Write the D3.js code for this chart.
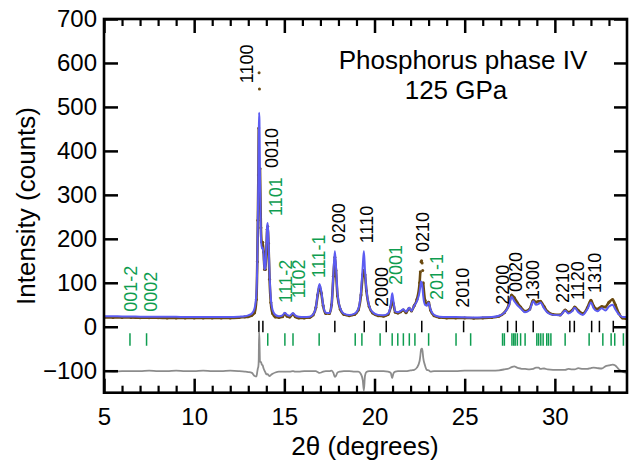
<!DOCTYPE html>
<html><head><meta charset="utf-8">
<script src="https://cdn.jsdelivr.net/npm/d3@7"></script>
<style>
html,body{margin:0;padding:0;background:#fff;}
svg text{font-family:"Liberation Sans",Arial,Helvetica,sans-serif;}
</style></head>
<body>
<svg id="chart" width="631" height="465"></svg>
<script>
// ---- data ----
const twoTheta = [5.0,5.5,6.0,6.5,7.0,7.5,8.0,8.5,9.0,9.5,10.0,10.5,11.0,11.5,12.0,12.5,12.8,13.0,13.2,13.35,13.45,13.5,13.53,13.56,13.58,13.6,13.62,13.65,13.7,13.75,13.8,13.85,13.9,13.95,14.0,14.05,14.08,14.12,14.18,14.25,14.35,14.5,14.7,14.9,15.03,15.15,15.3,15.48,15.6,15.8,16.1,16.4,16.6,16.75,16.85,16.95,17.05,17.15,17.3,17.5,17.62,17.72,17.8,17.86,17.95,18.1,18.3,18.6,18.9,19.1,19.25,19.35,19.41,19.47,19.55,19.7,19.9,20.2,20.5,20.75,20.9,20.98,21.05,21.15,21.3,21.45,21.6,21.75,21.92,22.05,22.2,22.35,22.5,22.54,22.58,22.61,22.64,22.67,22.7,22.8,22.9,23.0,23.1,23.3,23.6,24.0,24.5,25.0,25.5,26.0,26.5,26.9,27.2,27.45,27.6,27.75,27.9,28.1,28.35,28.6,28.8,28.95,29.1,29.2,29.4,29.6,29.9,30.3,30.57,30.75,30.95,31.1,31.3,31.55,31.8,32.0,32.15,32.35,32.6,32.8,33.0,33.2,33.35,33.55,33.75,34.0];
const calcI = [24,24,23.5,23.5,23,23,23,22.5,22.5,22,22,22,22,22,22,23,24,26,30,42,75,150,240,340,430,487,470,340,205,178,180,165,130,135,180,230,236,200,120,65,38,27,24,26,32,27,25,31,26,23,22,23,28,45,75,97,80,50,32,31,50,120,172,140,75,42,30,27,30,40,80,140,172,130,85,48,33,27,26,30,50,76,58,35,33,36,40,34,43,36,48,58,80,92,103,101,95,84,70,50,48,55,40,27,23,22,22,21.5,21,21.5,22,25,32,48,68,58,50,42,33,38,58,50,52,55,42,32,27,26,37,30,35,43,33,27,40,55,42,35,42,37,46,50,40,28,22,22];
const obsI = [21,21,21,21,20.5,20.5,20.5,20,20,20,20,20,20,20,20,21,22,23,26,32,62,148,242,345,452,578,541,360,225,192,192,170,130,130,172,222,228,190,108,55,30,22,21,23,30,24,22,29,23,20,20,21,27,44,72,92,76,48,30,30,50,115,158,128,70,40,28,25,28,38,72,118,128,118,82,46,31,25,24,28,45,60,52,33,31,34,38,32,42,36,48,62,100,125,148,150,145,128,100,60,50,56,38,25,21,20,20,20,19.5,20,21,24,32,50,72,66,56,45,35,40,60,56,58,58,46,34,28,27,38,33,37,45,37,30,43,60,47,40,46,45,56,62,50,30,20,18];
const diffI = [-101,-102,-101,-101,-101,-100,-101,-101,-100,-101,-101,-100,-101,-101,-100,-101,-102,-103,-105,-112,-113,-102,-95,-90,-75,-12,-30,-80,-80,-86,-88,-95,-100,-104,-108,-108,-108,-110,-112,-110,-107,-104,-102,-102,-102,-102,-102,-101,-102,-102,-101,-101,-101,-101,-103,-105,-104,-102,-101,-101,-100,-105,-114,-112,-104,-102,-101,-101,-102,-102,-108,-122,-145,-112,-103,-101,-101,-101,-101,-102,-105,-117,-106,-102,-101,-101,-101,-101,-100,-99,-98,-93,-78,-66,-52,-50,-50,-58,-70,-88,-98,-99,-102,-101,-101,-101,-101,-100,-100,-100,-100,-99,-97,-95,-92,-90,-93,-95,-96,-97,-96,-93,-93,-96,-95,-97,-98,-98,-98,-96,-97,-97,-94,-96,-96,-94,-93,-94,-95,-90,-88,-86,-88,-97,-102,-105];

// reflection markers (2θ)
const phaseA = [13.59,13.81,17.80,19.43,20.65,22.62,24.94,27.38,27.86,28.80,30.83,31.08,32.04,32.47,33.24];
const phaseB = [6.44,7.36,14.08,15.03,15.48,16.93,18.93,19.30,20.31,20.98,21.29,21.60,21.93,22.24,23.00,24.52,25.33,27.10,27.20,27.62,27.72,27.80,27.92,28.10,28.35,29.00,29.10,29.22,29.35,29.55,29.65,29.78,30.57,31.90,32.66,33.12,33.32,33.80];

// hkl labels: text, anchor 2θ, anchor intensity
const labelsA = ["1100","0010","0200","1110","2000","0210","2010","2200","0020","1300","2210","1120","1310"];
const labelsA_t = [13.25,14.63,18.34,19.90,20.72,23.00,25.25,27.47,28.19,29.13,30.79,31.62,32.54];
const labelsA_i = [554,361,190,190,45,170,43,50,79,61,54,61,77];
const labelsB = ["001-2","0002","1101","111-2","1102","111-1","2001","201-1"];
const labelsB_t = [6.83,7.92,14.85,15.40,16.12,17.23,21.55,23.82];
const labelsB_i = [34,34,252,54,65,111,95,61];

const xMajor = [5,10,15,20,25,30];
const xMinor = [6,7,8,9,11,12,13,14,16,17,18,19,21,22,23,24,26,27,28,29,31,32,33];
const yMajor = [-100,0,100,200,300,400,500,600,700];

const title1 = "Phosphorus phase IV", title2 = "125 GPa";
const xTitle = "2θ (degrees)", yTitle = "Intensity (counts)";

// ---- drawing ----
const svg = d3.select("#chart");
const L = 104, R = 627, T = 19, B = 392.7;
const x = d3.scaleLinear().domain([5,34]).range([L,R]);
const y = d3.scaleLinear().domain([-150,700]).range([B,T]);

const pts = twoTheta.map((t,i)=>({t, c:calcI[i], o:obsI[i], d:diffI[i]}));

svg.append("clipPath").attr("id","clip").append("rect")
  .attr("x",L).attr("y",T).attr("width",R-L).attr("height",B-T);
const g = svg.append("g").attr("clip-path","url(#clip)");

// reflection markers
g.selectAll("line.pa").data(phaseA).enter().append("line")
  .attr("x1",d=>x(d)).attr("x2",d=>x(d)).attr("y1",y(13.5)).attr("y2",y(-12.5))
  .attr("stroke","#000").attr("stroke-width",1.5);
g.selectAll("line.pb").data(phaseB).enter().append("line")
  .attr("x1",d=>x(d)).attr("x2",d=>x(d)).attr("y1",y(-15)).attr("y2",y(-43))
  .attr("stroke","#0f9d50").attr("stroke-width",1.5);

// difference
g.append("path").datum(pts)
  .attr("d", d3.line().x(p=>x(p.t)).y(p=>y(p.d)).curve(d3.curveMonotoneX))
  .attr("fill","none").attr("stroke","#8c8c8c").attr("stroke-width",1.8);

// observed: dense band where it follows the fit, isolated dots where it departs
g.append("path").datum(pts)
  .attr("d", d3.line().defined(p=>p.o - p.c < 35).x(p=>x(p.t)).y(p=>y(p.o)).curve(d3.curveMonotoneX))
  .attr("fill","none").attr("stroke","#6b4a10").attr("stroke-width",2.6);
g.selectAll("circle.obs").data(pts).enter().append("circle")
  .attr("cx",p=>x(p.t)).attr("cy",p=>y(p.o)).attr("r",1.5).attr("fill","#6b4a10");

// calculated
g.append("path").datum(pts)
  .attr("d", d3.line().x(p=>x(p.t)).y(p=>y(p.c)).curve(d3.curveMonotoneX))
  .attr("fill","none").attr("stroke","#5c5cf2").attr("stroke-width",2);

// labels
function addLabels(texts, ts, is, color){
  texts.forEach((s,i)=>{
    svg.append("text").attr("transform",`translate(${x(ts[i])},${y(is[i])}) rotate(-90)`)
      .attr("text-anchor","start").attr("font-size",18).attr("fill",color).text(s);
  });
}
addLabels(labelsA, labelsA_t, labelsA_i, "#000");
addLabels(labelsB, labelsB_t, labelsB_i, "#0f9d50");

// axes
const ax = svg.append("g");
function styleAxis(sel, w){
  sel.select(".domain").remove();
  sel.selectAll(".tick line").attr("stroke","#000").attr("stroke-width",w);
  sel.selectAll(".tick text").attr("font-size",24).attr("fill","#000")
     .style("font-family",'"Liberation Sans",Arial,Helvetica,sans-serif');
}
ax.append("g").attr("transform",`translate(0,${B})`)
  .call(d3.axisBottom(x).tickValues(xMajor).tickSize(-14).tickPadding(15).tickFormat(d3.format("d")))
  .call(s=>styleAxis(s,2.5));
ax.append("g").attr("transform",`translate(0,${B})`)
  .call(d3.axisBottom(x).tickValues(xMinor).tickSize(-7).tickFormat(""))
  .call(s=>styleAxis(s,2.2));
ax.append("g").attr("transform",`translate(0,${T})`)
  .call(d3.axisTop(x).tickValues(xMajor).tickSize(-14).tickFormat(""))
  .call(s=>styleAxis(s,2.5));
ax.append("g").attr("transform",`translate(0,${T})`)
  .call(d3.axisTop(x).tickValues(xMinor).tickSize(-7).tickFormat(""))
  .call(s=>styleAxis(s,2.2));
ax.append("g").attr("transform",`translate(${L},0)`)
  .call(d3.axisLeft(y).tickValues(yMajor).tickSize(-14).tickPadding(7).tickFormat(d3.format("d")))
  .call(s=>styleAxis(s,2.5));
ax.append("g").attr("transform",`translate(${R},0)`)
  .call(d3.axisRight(y).tickValues(yMajor).tickSize(-13).tickFormat(""))
  .call(s=>styleAxis(s,2.5));
svg.append("rect").attr("x",L).attr("y",T).attr("width",R-L).attr("height",B-T)
  .attr("fill","none").attr("stroke","#000").attr("stroke-width",2.6);

// titles
svg.append("text").attr("x",463).attr("y",69).attr("text-anchor","middle").attr("font-size",26).text(title1);
svg.append("text").attr("x",456).attr("y",99).attr("text-anchor","middle").attr("font-size",26).text(title2);
svg.append("text").attr("x",365).attr("y",455).attr("text-anchor","middle").attr("font-size",26).text(xTitle);
svg.append("text").attr("transform",`translate(35,206) rotate(-90)`).attr("text-anchor","middle").attr("font-size",26).text(yTitle);
</script>
</body></html>
